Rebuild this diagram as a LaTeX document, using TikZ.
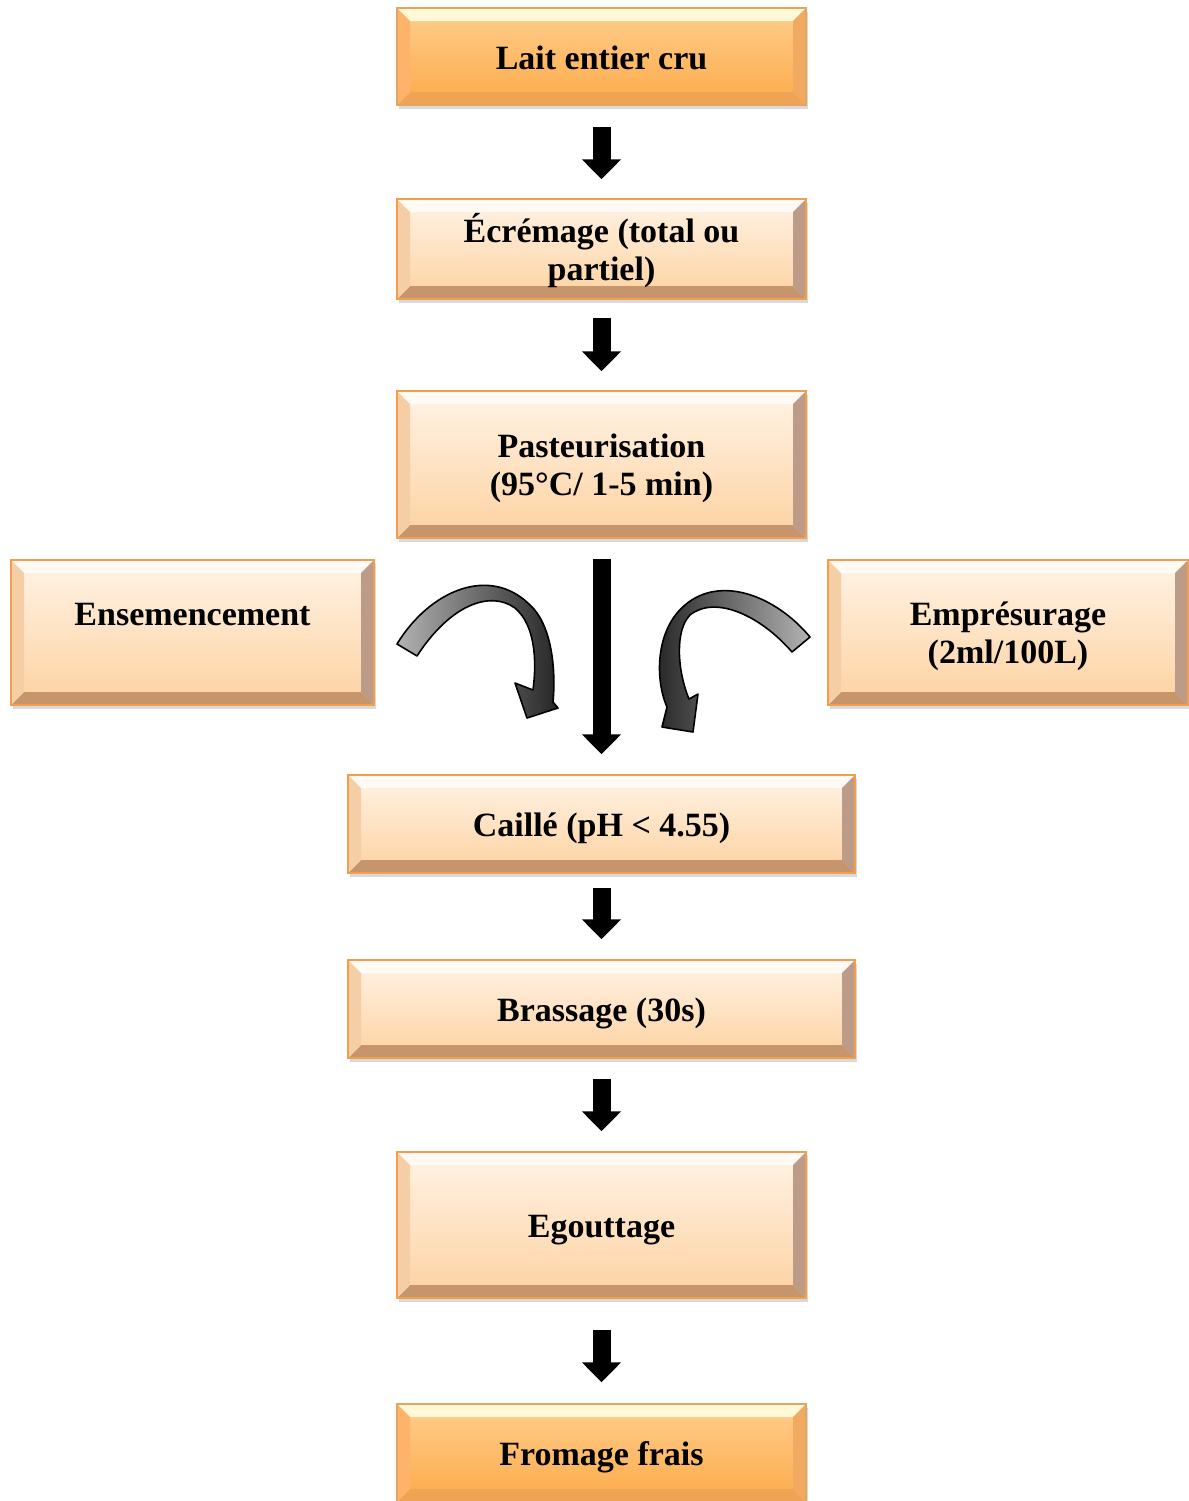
\documentclass[tikz,border=0pt]{standalone}
\usepackage{fontspec}
\setmainfont{Liberation Serif}
\usetikzlibrary{arrows.meta,shadows}
\definecolor{peachTop}{HTML}{FFF3E6}
\definecolor{peachBot}{HTML}{FDD2A0}
\definecolor{peachBevT}{HTML}{FFFAF4}
\definecolor{peachBevB}{HTML}{C7956B}
\definecolor{peachBevL}{HTML}{F6CEA5}
\definecolor{peachBevR}{HTML}{BC9C88}
\definecolor{boxBorder}{HTML}{F29E4C}
\definecolor{orTop}{HTML}{FECE8E}
\definecolor{orBot}{HTML}{FDAA48}
\definecolor{orBevT}{HTML}{FFF9D6}
\definecolor{orBevB}{HTML}{EFA455}
\definecolor{orBevL}{HTML}{FDB46A}
\definecolor{orBevR}{HTML}{F0AA62}
\definecolor{orBorder}{HTML}{E6A462}
\newcommand\topstrut{\rule{0pt}{16pt}}
\newcommand\botstrut{\rule[-3.5pt]{0pt}{3.5pt}}
\newcommand\mybevel[4]{%
  \fill[#1] (path picture bounding box.north west) -- (path picture bounding box.north east)
    -- ([xshift=-6.5pt,yshift=-6.5pt]path picture bounding box.north east)
    -- ([xshift=6.5pt,yshift=-6.5pt]path picture bounding box.north west) -- cycle;
  \fill[#2] (path picture bounding box.south west) -- (path picture bounding box.south east)
    -- ([xshift=-6.5pt,yshift=6.5pt]path picture bounding box.south east)
    -- ([xshift=6.5pt,yshift=6.5pt]path picture bounding box.south west) -- cycle;
  \fill[#3] (path picture bounding box.north west) -- (path picture bounding box.south west)
    -- ([xshift=6.5pt,yshift=6.5pt]path picture bounding box.south west)
    -- ([xshift=6.5pt,yshift=-6.5pt]path picture bounding box.north west) -- cycle;
  \fill[#4] (path picture bounding box.north east) -- (path picture bounding box.south east)
    -- ([xshift=-6.5pt,yshift=6.5pt]path picture bounding box.south east)
    -- ([xshift=-6.5pt,yshift=-6.5pt]path picture bounding box.north east) -- cycle;
}
\tikzset{
  boxbase/.style={inner sep=0pt, align=center, text=black,
    font=\fontsize{17}{19}\selectfont\bfseries, line width=0.7pt,
    drop shadow={shadow xshift=0.8pt, shadow yshift=-2pt, opacity=0.25, fill=black!60}},
  peachbox/.style={boxbase, draw=boxBorder, top color=peachTop, bottom color=peachBot,
    path picture={\mybevel{peachBevT}{peachBevB}{peachBevL}{peachBevR}}},
  orangebox/.style={boxbase, draw=orBorder, top color=orTop, bottom color=orBot,
    path picture={\mybevel{orBevT}{orBevB}{orBevL}{orBevR}}},
  blockarrow/.style={line width=9pt, black, -{Triangle[width=19pt,length=10pt]}},
  curvearrow/.style={draw=black, line width=0.8pt, line join=round}
}
\begin{document}
\begin{tikzpicture}[x=0.5pt, y=-0.5pt]
\useasboundingbox (0,0) rectangle (1189,1501);
\node[orangebox, minimum width=204.5pt, minimum height=48.5pt] (lait) at (601.5,56.5) {\topstrut\botstrut Lait entier cru};
\node[peachbox, minimum width=204.5pt, minimum height=50pt] (ecr) at (601.5,249) {\topstrut Écrémage (total ou\\\botstrut partiel)};
\node[peachbox, minimum width=204.5pt, minimum height=73.5pt] (past) at (601.5,464.5) {\topstrut Pasteurisation\\\botstrut(95°C/ 1-5 min)};
\node[peachbox, minimum width=181.5pt, minimum height=72.5pt] (ens) at (192.5,632.5) {\topstrut Ensemencement\\\botstrut\phantom{(2ml/100L)}};
\node[peachbox, minimum width=180pt, minimum height=72.5pt] (emp) at (1008,632.5) {\topstrut Emprésurage\\\botstrut(2ml/100L)};
\node[peachbox, minimum width=253.5pt, minimum height=49pt] (caille) at (601.5,824) {\topstrut\botstrut Caillé (pH < 4.55)};
\node[peachbox, minimum width=253.5pt, minimum height=49pt] (brass) at (601.5,1009) {\topstrut\botstrut Brassage (30s)};
\node[peachbox, minimum width=204.5pt, minimum height=73pt] (egou) at (601.5,1225) {\topstrut\botstrut Egouttage};
\node[orangebox, minimum width=204.5pt, minimum height=49pt] (from) at (601.5,1453) {\topstrut\botstrut Fromage frais};

\draw[blockarrow, shorten <=10.5pt, shorten >=9.5pt] (lait.south) -- (ecr.north);
\draw[blockarrow, shorten <=9pt, shorten >=9.5pt] (ecr.south) -- (past.north);
\draw[blockarrow, shorten <=10pt, shorten >=10pt] (past.south) -- (caille.north);
\draw[blockarrow, shorten <=7pt, shorten >=10pt] (caille.south) -- (brass.north);
\draw[blockarrow, shorten <=10pt, shorten >=10pt] (brass.south) -- (egou.north);
\draw[blockarrow, shorten <=15.5pt, shorten >=10.5pt] (egou.south) -- (from.north);

% curved arrow from Ensemencement
\filldraw[curvearrow, left color=black!30, right color=black!85]
  (397,644) .. controls (430,590) and (490,565) .. (530,605)
  .. controls (552,625) and (556,670) .. (553,702)
  -- (558,708) -- (527,718) -- (515,683) -- (533,690)
  .. controls (537,660) and (535,625) .. (515,608)
  .. controls (490,590) and (450,605) .. (417,656) -- cycle;
% curved arrow from Emprésurage
\filldraw[curvearrow, left color=black!85, right color=black!30]
  (810,637) .. controls (775,595) and (720,575) .. (685,605)
  .. controls (655,630) and (655,680) .. (667,707)
  -- (662,727) -- (693,732) -- (698,694) -- (689,699)
  .. controls (677,670) and (675,630) .. (690,615)
  .. controls (715,595) and (760,615) .. (792,652) -- cycle;
\end{tikzpicture}
\end{document}
